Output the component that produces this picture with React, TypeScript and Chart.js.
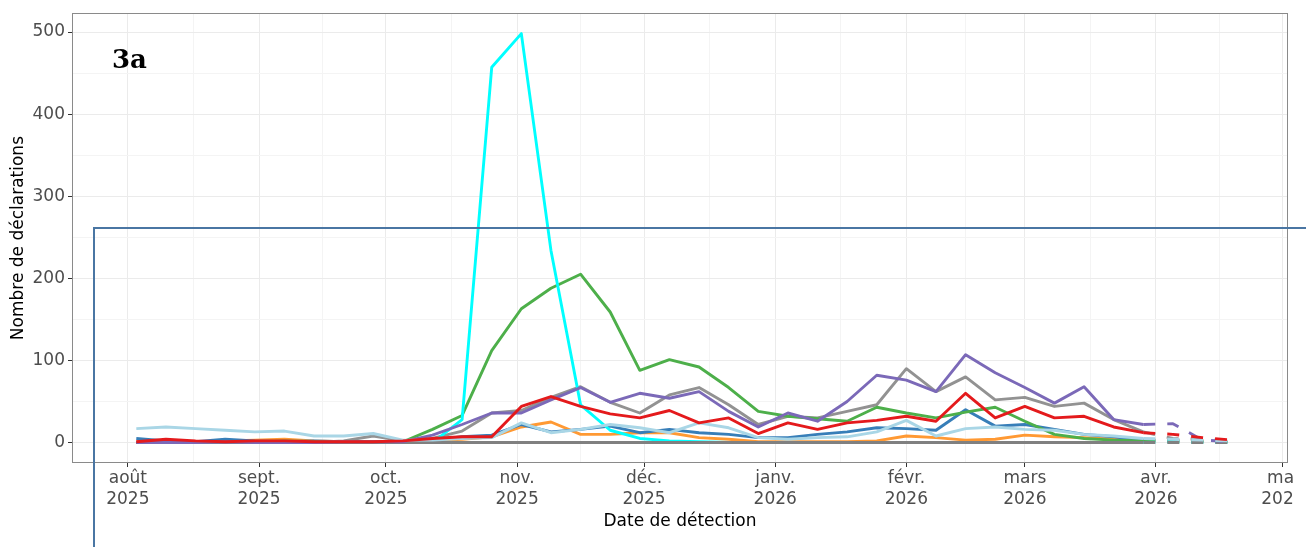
import React, { useEffect, useRef } from 'react';
import { Chart, registerables } from 'chart.js';

Chart.register(...registerables);

// Weekly detection dates (Sundays)
const weekDates = [
  '2025-08-03', '2025-08-10', '2025-08-17', '2025-08-24', '2025-08-31',
  '2025-09-07', '2025-09-14', '2025-09-21', '2025-09-28', '2025-10-05',
  '2025-10-12', '2025-10-19', '2025-10-26', '2025-11-02', '2025-11-09',
  '2025-11-16', '2025-11-23', '2025-11-30', '2025-12-07', '2025-12-14',
  '2025-12-21', '2025-12-28', '2026-01-04', '2026-01-11', '2026-01-18',
  '2026-01-25', '2026-02-01', '2026-02-08', '2026-02-15', '2026-02-22',
  '2026-03-01', '2026-03-08', '2026-03-15', '2026-03-22', '2026-03-29',
  '2026-04-05', '2026-04-12', '2026-04-19',
];

// Last weeks (incomplete data) drawn dashed, starting at this date
const dashedFromDate = '2026-03-29';

const seriesRed = [1, 4, 2, 1, 2, 2, 1, 1, 1, 2, 5, 7, 7, 44, 56, 44, 35, 30, 39, 24, 30, 11, 24, 16, 24, 27, 32, 26, 60, 30, 44, 30, 32, 19, 12, 10, 6, 3];
const seriesLightBlue = [17, 19, 17, 15, 13, 14, 8, 8, 11, 3, 3, 5, 6, 24, 12, 16, 22, 18, 12, 24, 18, 6, 4, 6, 7, 13, 27, 8, 17, 19, 16, 15, 10, 8, 5, 4, 3, 2];
const seriesPurple = [0, 0, 0, 1, 0, 0, 0, 1, 1, 1, 9, 22, 36, 36, 52, 67, 49, 60, 54, 62, 38, 19, 36, 26, 50, 82, 76, 62, 107, 85, 67, 48, 68, 28, 22, 23, 3, 1];
const seriesGreyFlat = [0, 0, 0, 0, 0, 0, 0, 0, 0, 0, 0, 0, 0, 0, 0, 0, 0, 0, 0, 0, 0, 0, 0, 0, 0, 0, 0, 0, 0, 0, 0, 0, 0, 0, 0, 0, 0, 0];
const seriesCyan = [0, 0, 0, 0, 0, 0, 0, 0, 0, 0, 0, 28, 457, 498, 234, 46, 15, 5, 2, 1, 0, 0, 0, 0, 0, 0, 0, 0, 0, 0, 0, 0, 0, 0, 0, 1, 0, 0];
const seriesGreen = [0, 0, 1, 0, 1, 2, 1, 0, 1, 1, 16, 33, 112, 163, 188, 205, 159, 88, 101, 92, 67, 38, 32, 29, 26, 43, 36, 30, 37, 43, 26, 10, 5, 3, 2, 1, 1, 0];
const seriesGrey = [0, 0, 0, 0, 0, 1, 0, 2, 8, 2, 5, 14, 36, 39, 55, 68, 49, 36, 58, 67, 46, 22, 32, 30, 38, 46, 90, 62, 80, 52, 55, 44, 48, 28, 13, 5, 4, 2];
const seriesBlue = [5, 2, 1, 4, 2, 1, 2, 1, 1, 1, 3, 7, 9, 22, 13, 16, 20, 12, 16, 12, 10, 6, 6, 10, 13, 18, 17, 15, 40, 20, 22, 16, 10, 7, 3, 3, 2, 1];
const seriesOrange = [1, 0, 1, 2, 3, 4, 2, 1, 1, 1, 2, 4, 7, 19, 25, 10, 10, 12, 12, 6, 4, 1, 1, 1, 1, 2, 8, 6, 3, 4, 9, 7, 6, 4, 3, 3, 2, 1];

// Axis ticks
const monthTickDates = [
  '2025-08-01', '2025-09-01', '2025-10-01', '2025-11-01', '2025-12-01',
  '2026-01-01', '2026-02-01', '2026-03-01', '2026-04-01', '2026-05-01',
];
const monthTickLabels = [
  ['août', '2025'], ['sept.', '2025'], ['oct.', '2025'], ['nov.', '2025'], ['déc.', '2025'],
  ['janv.', '2026'], ['févr.', '2026'], ['mars', '2026'], ['avr.', '2026'], ['mai', '2026'],
];
const yMajorTicks = [0, 100, 200, 300, 400, 500];
const yMinorTicks = [50, 150, 250, 350, 450];

const panelLabel = '3a';
const xTitle = 'Date de détection';
const yTitle = 'Nombre de déclarations';

const toDay = (s: string) => {
  const [y, m, d] = s.split('-').map(Number);
  return Date.UTC(y, m - 1, d) / 86400000;
};

const majorXDays = monthTickDates.map(toDay);
const minorXDays = majorXDays.slice(0, -1).map((d, i) => (d + majorXDays[i + 1]) / 2);
const dashedFromDay = toDay(dashedFromDate);
const xMin = toDay('2025-08-01') - 13.2;
const xMax = toDay('2025-08-01') + 274.2;

const FONT = '"DejaVu Sans", "Liberation Sans", Arial, sans-serif';

function mkDataset(label: string, values: number[], color: string) {
  return {
    label,
    data: weekDates.map((d, i) => ({ x: toDay(d), y: values[i] })),
    borderColor: color,
    backgroundColor: color,
    borderWidth: 2.9,
    pointRadius: 0,
    pointHoverRadius: 0,
    tension: 0,
    fill: false,
    borderJoinStyle: 'round' as const,
    borderCapStyle: 'butt' as const,
    segment: {
      borderDash: (c: any) => (c.p0.parsed.x >= dashedFromDay ? [12, 12] : undefined),
    },
  };
}

const decorPlugin = {
  id: 'decor',
  afterDatasetsDraw(chart: any) {
    const { ctx, chartArea } = chart;
    ctx.save();
    ctx.strokeStyle = '#8a8a8a';
    ctx.lineWidth = 1;
    ctx.strokeRect(
      Math.round(chartArea.left) + 0.5,
      Math.round(chartArea.top) + 0.5,
      Math.round(chartArea.right - chartArea.left) - 1,
      Math.round(chartArea.bottom - chartArea.top) - 1,
    );
    ctx.fillStyle = '#000';
    ctx.font = 'bold 26px "DejaVu Serif", serif';
    ctx.textBaseline = 'alphabetic';
    ctx.textAlign = 'left';
    ctx.fillText(panelLabel, chartArea.left + 40, chartArea.top + 55);
    ctx.restore();
  },
};

export default function App() {
  const ref = useRef<HTMLCanvasElement>(null);

  useEffect(() => {
    const isMajorX = (v: number) => majorXDays.some((d) => Math.abs(d - v) < 1e-6);
    const isMajorY = (v: number) => yMajorTicks.includes(v);
    const chart = new Chart(ref.current as HTMLCanvasElement, {
      type: 'line',
      data: {
        datasets: [
          mkDataset('rouge', seriesRed, '#E41A1C'),
          mkDataset('bleu clair', seriesLightBlue, '#A9D6E6'),
          mkDataset('violet', seriesPurple, '#7B69B8'),
          mkDataset('gris foncé', seriesGreyFlat, '#808080'),
          mkDataset('cyan', seriesCyan, '#00FFFF'),
          mkDataset('vert', seriesGreen, '#4DAF4A'),
          mkDataset('gris', seriesGrey, '#929292'),
          mkDataset('bleu', seriesBlue, '#377EB8'),
          mkDataset('orange', seriesOrange, '#FF9933'),
        ],
      },
      options: {
        animation: false,
        responsive: false,
        maintainAspectRatio: false,
        devicePixelRatio: 1,
        layout: { padding: { top: 12, right: 52, bottom: 0, left: 0 } },
        plugins: {
          legend: { display: false },
          tooltip: { enabled: false },
        },
        scales: {
          x: {
            type: 'linear',
            min: xMin,
            max: xMax,
            afterBuildTicks: (s: any) => {
              s.ticks = [...majorXDays, ...minorXDays].sort((a, b) => a - b).map((v) => ({ value: v }));
            },
            afterFit: (s: any) => {
              s.height = 84;
            },
            border: { display: false },
            grid: {
              color: (c: any) => (c.tick && isMajorX(c.tick.value) ? '#EBEBEB' : '#F4F4F4'),
              lineWidth: 1,
              tickColor: (c: any) => (c.tick && isMajorX(c.tick.value) ? '#333333' : 'rgba(0,0,0,0)'),
              tickLength: 4,
              drawTicks: true,
            },
            ticks: {
              autoSkip: false,
              maxRotation: 0,
              minRotation: 0,
              padding: 1,
              color: '#4D4D4D',
              font: { family: FONT, size: 17, lineHeight: 1.25 },
              callback: (v: any) => {
                const idx = majorXDays.findIndex((d) => Math.abs(d - Number(v)) < 1e-6);
                return idx >= 0 ? monthTickLabels[idx] : '';
              },
            },
            title: {
              display: true,
              text: xTitle,
              color: '#000',
              font: { family: FONT, size: 17, lineHeight: 1.2 },
              padding: { top: 0, bottom: 15 },
            },
          },
          y: {
            type: 'linear',
            min: -24.9,
            max: 522.9,
            afterBuildTicks: (s: any) => {
              s.ticks = [...yMajorTicks, ...yMinorTicks].sort((a, b) => a - b).map((v) => ({ value: v }));
            },
            afterFit: (s: any) => {
              s.width = 72;
            },
            border: { display: false },
            grid: {
              color: (c: any) => (c.tick && isMajorY(c.tick.value) ? '#EBEBEB' : '#F4F4F4'),
              lineWidth: 1,
              tickColor: (c: any) => (c.tick && isMajorY(c.tick.value) ? '#333333' : 'rgba(0,0,0,0)'),
              tickLength: 4,
              drawTicks: true,
            },
            ticks: {
              autoSkip: false,
              padding: 3,
              color: '#4D4D4D',
              font: { family: FONT, size: 17 },
              callback: (v: any) => (isMajorY(Number(v)) ? String(v) : ''),
            },
            title: {
              display: true,
              text: yTitle,
              color: '#000',
              font: { family: FONT, size: 17, lineHeight: 1.2 },
              padding: { top: 8, bottom: 0 },
            },
          },
        },
      },
      plugins: [decorPlugin],
    } as any);
    return () => chart.destroy();
  }, []);

  return (
    <div style={{ position: 'absolute', left: 0, top: 0, width: 1306, height: 547, overflow: 'hidden', background: '#fff' }}>
      <div style={{ position: 'absolute', left: 0, top: 0, width: 1294, height: 547, overflow: 'hidden' }}>
        <canvas ref={ref} width={1340} height={547} style={{ display: 'block' }} />
      </div>
      <div
        style={{
          position: 'absolute',
          left: 93,
          top: 227,
          width: 1400,
          height: 500,
          borderTop: '2px solid #4A76A3',
          borderLeft: '2px solid #4A76A3',
          boxSizing: 'border-box',
        }}
      />
    </div>
  );
}
